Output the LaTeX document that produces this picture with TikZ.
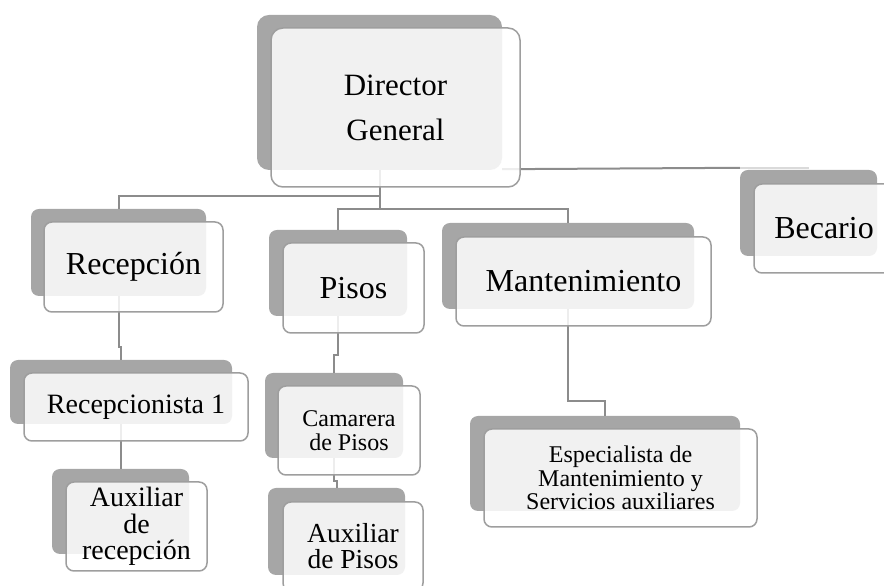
\documentclass[tikz,border=0pt]{standalone}
\usepackage{fontspec}
\setmainfont{Liberation Serif}
\usetikzlibrary{calc}
\definecolor{shadowgrey}{HTML}{A6A6A6}
\definecolor{framegrey}{HTML}{9E9E9E}
\definecolor{linkgrey}{HTML}{8C8C8C}
\definecolor{fadegrey}{HTML}{DADADA}
\tikzset{
  shade box/.style={fill=shadowgrey, rounded corners=8pt, inner sep=0pt},
  unit box/.style={draw=framegrey, line width=1.5pt, fill=white, fill opacity=0.85,
    text opacity=1, rounded corners=8pt, inner sep=0pt, align=center},
  link/.style={draw=linkgrey, line width=2pt},
}
\begin{document}
\begin{tikzpicture}[x=1pt, y=1pt]
			%%%%% FRAME %%%%%
			\useasboundingbox (0,0) rectangle (884,586);
			
			%%%%% SHADOWS %%%%%
			\node[shade box, rounded corners=12pt, minimum width=245pt, minimum height=155pt] (dir-s) at (379.5, 493.5) {};
			\node[shade box, minimum width=175pt, minimum height=87pt] (rec-s) at (118.5, 333.5) {};
			\node[shade box, minimum width=138pt, minimum height=86pt] (pis-s) at (338, 313) {};
			\node[shade box, minimum width=252pt, minimum height=86pt] (man-s) at (568, 320) {};
			\node[shade box, minimum width=137pt, minimum height=86pt] (bec-s) at (808.5, 373) {};
			\node[shade box, minimum width=222pt, minimum height=64pt] (rc1-s) at (121, 194) {};
			\node[shade box, minimum width=138pt, minimum height=85pt] (cam-s) at (334, 170.5) {};
			\node[shade box, minimum width=137pt, minimum height=87pt] (axp-s) at (336.5, 54.5) {};
			\node[shade box, minimum width=137pt, minimum height=85pt] (axr-s) at (120.5, 74.5) {};
			\node[shade box, minimum width=270pt, minimum height=95pt] (esp-s) at (605, 122.5) {};
			
			%%%%% LINKS %%%%%
			\coordinate (split) at ($(dir-s.south)+(0,-39)$);
			\draw[link] (dir-s.south) |- ($(rec-s.north)+(0,13)$) -- (rec-s.north);
			\draw[link] (dir-s.south) -- (split);
			\draw[link] (pis-s.north) |- (split);
			\draw[link] (man-s.north) |- (split);
			\draw[link] ($(dir-s.south east)+(0,1)$) -- ($(bec-s.north west)+(0,2)$);
			\draw[link, draw=fadegrey] ($(bec-s.north west)+(0,2)$) -- ($(bec-s.north)+(0,2)$);
			
			\draw[link] (rec-s.south) |- ($(rc1-s.north)+(0,13)$) -- (rc1-s.north);
			\draw[link] (rc1-s.south) -- (rc1-s.south |- axr-s.north);
			\draw[link] (pis-s.south) |- ($(cam-s.north)+(0,18)$) -- (cam-s.north);
			\draw[link] (cam-s.south) |- ($(axp-s.north)+(0,7)$) -- (axp-s.north);
			\draw[link] (man-s.south) |- ($(esp-s.north)+(0,15)$) -- (esp-s.north);
			
			%%%%% UNITS %%%%%
			\node[unit box, rounded corners=12pt, minimum width=249pt, minimum height=159pt,
			  font=\fontsize{31}{45}\selectfont] (dir) at (395.5, 478.5) {Director\\General};
			\node[unit box, minimum width=179pt, minimum height=90pt,
			  font=\fontsize{32}{38}\selectfont] (rec) at (133.5, 319) {Recepción};
			\node[unit box, minimum width=141pt, minimum height=90pt,
			  font=\fontsize{32}{38}\selectfont] (pis) at (353.5, 298) {Pisos};
			\node[unit box, minimum width=255pt, minimum height=89pt,
			  font=\fontsize{32}{38}\selectfont] (man) at (583.5, 304.5) {Mantenimiento};
			\node[unit box, minimum width=140pt, minimum height=89pt,
			  font=\fontsize{32}{38}\selectfont] (bec) at (824, 357.5) {Becario};
			\node[unit box, minimum width=224pt, minimum height=68pt,
			  font=\fontsize{28}{32}\selectfont] (rc1) at (136, 179) {Recepcionista 1};
			\node[unit box, minimum width=142pt, minimum height=89pt,
			  font=\fontsize{24}{24}\selectfont] (cam) at (349, 155.5) {Camarera\\de Pisos};
			\node[unit box, minimum width=140pt, minimum height=89pt,
			  font=\fontsize{27.5}{26}\selectfont] (axp) at (353, 39.5) {Auxiliar\\de Pisos};
			\node[unit box, minimum width=141pt, minimum height=89pt,
			  font=\fontsize{28}{26.5}\selectfont] (axr) at (136.5, 59.5) {Auxiliar\\de\\recepción};
			\node[unit box, minimum width=273pt, minimum height=98pt,
			  font=\fontsize{24}{23.5}\selectfont] (esp) at (620.5, 108) {Especialista de\\Mantenimiento y\\Servicios auxiliares};
			
			%%%%% END %%%%%
\end{tikzpicture}
\end{document}
